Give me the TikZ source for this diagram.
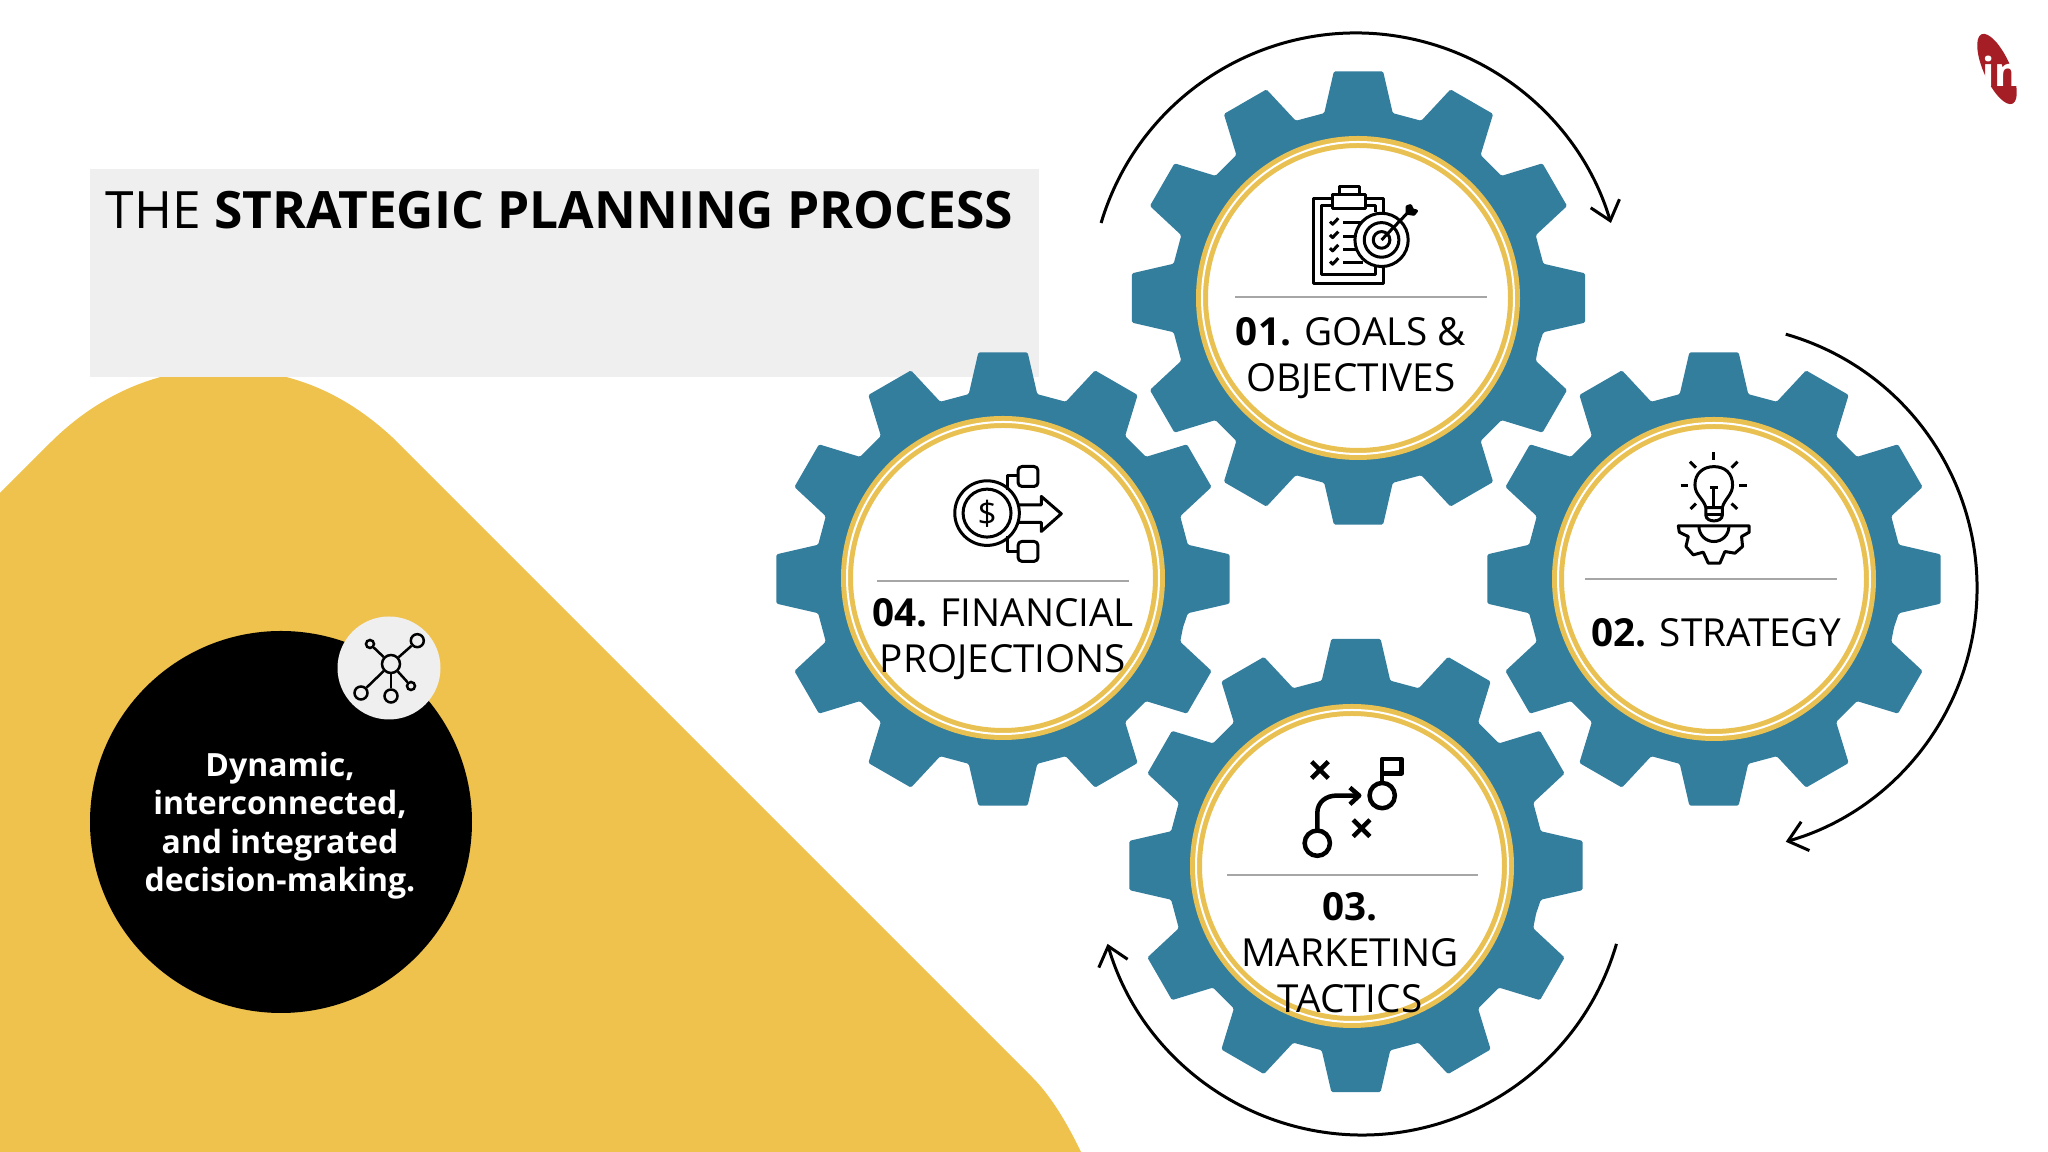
\documentclass[tikz,border=0pt]{standalone}
\usepackage{fontspec}
\setmainfont{Open Sans}
\usepackage{xcolor}
\usepackage{tikz}
\usetikzlibrary{arrows.meta,positioning}

\definecolor{sunyellow}{HTML}{EFC24D}
\definecolor{ringgold}{HTML}{E9C152}
\definecolor{gearblue}{HTML}{337D9D}
\definecolor{panelgray}{HTML}{EFEFEF}
\definecolor{logored}{HTML}{A51E26}

\tikzset{
  gearlabel/.style={anchor=base,align=center,inner sep=0pt,font=\fontsize{11pt}{13.1pt}\selectfont},
  looparrow/.style={line width=0.03cm,-{Straight Barb[length=0.18cm,width=0.3cm]}},
  rule/.style={draw=gray!70,line width=0.015cm},
  zoomgrid/.style={x=0.0333mm,y=-0.0333mm},
  thinicon/.style={draw=black,line width=0.03cm,line join=round},
  boldicon/.style={draw=black,line width=0.045cm,line join=round},
  netdot/.style={circle,draw=black,fill=panelgray,line width=0.025cm,inner sep=0pt}
}

% gear with twelve teeth and its ring: gear centre, ring centre
\newcommand{\gearwheel}[4]{
  \begin{scope}[shift={(#1,#2)}]
    \fill[gearblue,rounded corners=0.015cm] (-15:1.864) \foreach \a in {0,30,...,330} { -- ({\a-10.5}:1.88) -- ({\a-6.2}:2.28) -- ({\a+6.2}:2.28) -- ({\a+10.5}:1.88) } -- cycle;
  \end{scope}
  \draw[ringgold,line width=0.12cm,fill=white] (#3,#4) circle (1.56);
  \draw[white,line width=0.02cm] (#3,#4) circle (1.56);
}

\begin{document}
\begin{tikzpicture}
\useasboundingbox (0,0) rectangle (20.48,11.52);

\fill[sunyellow] (0,6.59) -- (0.50,7.09) .. controls (1.0,7.59) and (1.6,7.83) .. (2.2,7.83) .. controls (2.85,7.83) and (3.40,7.63) .. (3.92,7.15) -- (10.32,0.75) .. controls (10.52,0.55) and (10.68,0.27) .. (10.81,0) -- (0,0) -- cycle;

\fill[panelgray] (0.90,7.75) rectangle (10.39,9.83);
\node[anchor=base west,inner sep=0pt,font=\fontsize{14.65pt}{17pt}\selectfont] (title) at (1.05,9.23) {THE \textbf{STRATEGIC PLANNING PROCESS}};

% black disc on the left
\fill[black] (2.81,3.30) circle (1.91);
\node[anchor=base,align=center,inner sep=0pt,text=white,font=\fontsize{9.1pt}{10.95pt}\selectfont\bfseries] (note) at (2.80,2.605) {Dynamic,\\interconnected,\hspace*{0.7em}\\and integrated\\decision-making.};

\fill[panelgray] (3.89,4.84) circle (0.515);
\node[netdot,minimum size=0.18cm] (hub) at (3.91,4.88) {};
\node[netdot,minimum size=0.13cm] (netne) at (4.173,5.113) {};
\node[netdot,minimum size=0.08cm] (netnw) at (3.70,5.08) {};
\node[netdot,minimum size=0.13cm] (netsw) at (3.61,4.59) {};
\node[netdot,minimum size=0.13cm] (nets) at (3.91,4.56) {};
\node[netdot,minimum size=0.08cm] (netse) at (4.11,4.66) {};
\foreach \n in {netne,netnw,netsw,nets,netse}
  \draw[line width=0.025cm] (hub) -- (\n);

% gears
\gearwheel{13.585}{8.54}{13.58}{8.54}
\gearwheel{17.14}{5.73}{17.14}{5.73}
\gearwheel{13.56}{2.865}{13.52}{2.86}
\gearwheel{10.03}{5.73}{10.03}{5.74}

\draw[rule] (12.35,8.55) -- (14.87,8.55);
\draw[rule] (15.85,5.73) -- (18.37,5.73);
\draw[rule] (12.27,2.77) -- (14.78,2.77);
\draw[rule] (8.77,5.71) -- (11.29,5.71);

\node[gearlabel] (goals) at (13.51,7.60) {\textbf{01.} GOALS \&\\OBJECTIVES};
\node[gearlabel] (strategy) at (17.16,5.05) {\textbf{02.} STRATEGY};
\node[gearlabel] (tactics) at (13.50,1.39) {\textbf{03.}\\MARKETING\\TACTICS};
\node[gearlabel] (projections) at (10.03,4.79) {\textbf{04.} FINANCIAL\\PROJECTIONS};

% arrows round the gears
\coordinate (topstart) at ([shift={(13.56,8.53)}]163.4:2.66);
\coordinate (rightstart) at ([shift={(17.13,5.64)}]74:2.64);
\coordinate (bottomstart) at ([shift={(13.62,2.82)}]-16.2:2.65);
\draw[looparrow] (topstart) arc (163.4:16.6:2.66);
\draw[looparrow] (rightstart) arc (74:-74:2.64);
\draw[looparrow] (bottomstart) arc (-16.2:-163.8:2.65);

% clipboard and target
\begin{scope}[shift={(13.00,9.77)},zoomgrid]
  \draw[thinicon] (98,70) -- (42,70) -- (42,325) -- (250,325) -- (250,270);
  \draw[thinicon] (198,70) -- (250,70) -- (250,120);
  \draw[thinicon] (98,92) -- (65,92) -- (65,300) -- (228,300) -- (228,270);
  \draw[thinicon] (198,92) -- (228,92) -- (228,112);
  \draw[thinicon] (98,60) rectangle (198,100);
  \draw[thinicon] (118,60) -- (118,35) -- (178,35) -- (178,60);
  \foreach \y in {140,180,220,260} {
    \draw[thinicon] (90,\y) -- (98,\y+8) -- (115,\y-10);
    \draw[thinicon] (130,\y+4) -- (190,\y+4);
  }
  \draw[thinicon,fill=white] (245,195) circle (80);
  \draw[thinicon] (245,195) circle (52);
  \draw[thinicon] (245,195) circle (25);
  \draw[thinicon] (245,195) -- (322,115);
  \draw[thinicon,fill=black] (322,115) -- (322,95) -- (332,92) -- (338,105) -- (350,108) -- (342,118) -- cycle;
\end{scope}

% bulb over half a gear
\begin{scope}[shift={(16.60,7.07)},zoomgrid]
  \foreach \xa/\ya/\xb/\yb in {162/22/162/45,90/50/108/68,233/50/215/68,62/122/85/122,238/122/262/122,92/192/108/176,232/192/215/176}
    \draw[thinicon] (\xa,\ya) -- (\xb,\yb);
  \draw[thinicon] (138,188) .. controls (130,160) and (105,150) .. (105,120) .. controls (105,85) and (130,65) .. (162,65) .. controls (195,65) and (218,85) .. (218,120) .. controls (218,150) and (195,160) .. (187,188);
  \draw[thinicon] (138,188) -- (187,188) -- (187,212) .. controls (187,222) and (175,228) .. (162,228) .. controls (150,228) and (138,222) .. (138,212) -- cycle;
  \draw[thinicon] (138,208) -- (187,208);
  \draw[thinicon] (162,188) -- (162,130);
  \draw[thinicon] (150,128) -- (175,128);
  \draw[thinicon] (55,243) -- (268,243) -- (268,262) -- (245,275) -- (248,305) -- (225,325) -- (195,320) -- (180,355) -- (145,355) -- (130,322) -- (100,330) -- (78,305) -- (85,275) -- (58,262) -- cycle;
  \draw[thinicon] (117,245) arc (180:0:45);
\end{scope}

% playbook marks and flag
\begin{scope}[shift={(12.90,4.07)},zoomgrid]
  \foreach \cx/\cy in {90/75,215/250} {
    \draw[boldicon] (\cx-25,\cy-25) -- (\cx+25,\cy+25);
    \draw[boldicon] (\cx-25,\cy+25) -- (\cx+25,\cy-25);
  }
  \draw[boldicon] (82,295) circle (38);
  \draw[boldicon] (277,152) circle (38);
  \draw[boldicon] (82,257) -- (82,205) .. controls (82,170) and (110,152) .. (140,152) -- (205,152);
  \draw[boldicon] (180,128) -- (208,152) -- (180,178);
  \draw[boldicon] (277,114) -- (277,42) -- (335,42) -- (335,85) -- (277,85);
\end{scope}

% coin with branching arrow
\begin{scope}[shift={(7.60,8.12)},zoomgrid]
  \draw[thinicon] (682,520) circle (97);
  \draw[thinicon] (682,520) circle (72);
  \draw[thinicon] (775,495) -- (845,495) -- (845,470) -- (905,522) -- (845,575) -- (845,548) -- (775,548);
  \draw[thinicon,rounded corners=0.04cm] (775,380) rectangle (835,440);
  \draw[thinicon,rounded corners=0.04cm] (775,605) rectangle (835,665);
  \draw[thinicon] (742,450) -- (742,408) -- (775,408);
  \draw[thinicon] (742,590) -- (742,635) -- (775,635);
  \node[inner sep=0pt,font=\fontsize{9.5pt}{10pt}\selectfont] (dollar) at (682,522) {\$};
\end{scope}

% round mark in the corner
\fill[logored,rotate around={24:(19.97,10.83)}] (19.97,10.83) ellipse (0.135 and 0.38);
\node[anchor=base west,inner sep=0pt,text=white,font=\fontsize{11.4pt}{12pt}\selectfont\bfseries] (logo) at (19.82,10.65) {in};

\end{tikzpicture}
\end{document}
